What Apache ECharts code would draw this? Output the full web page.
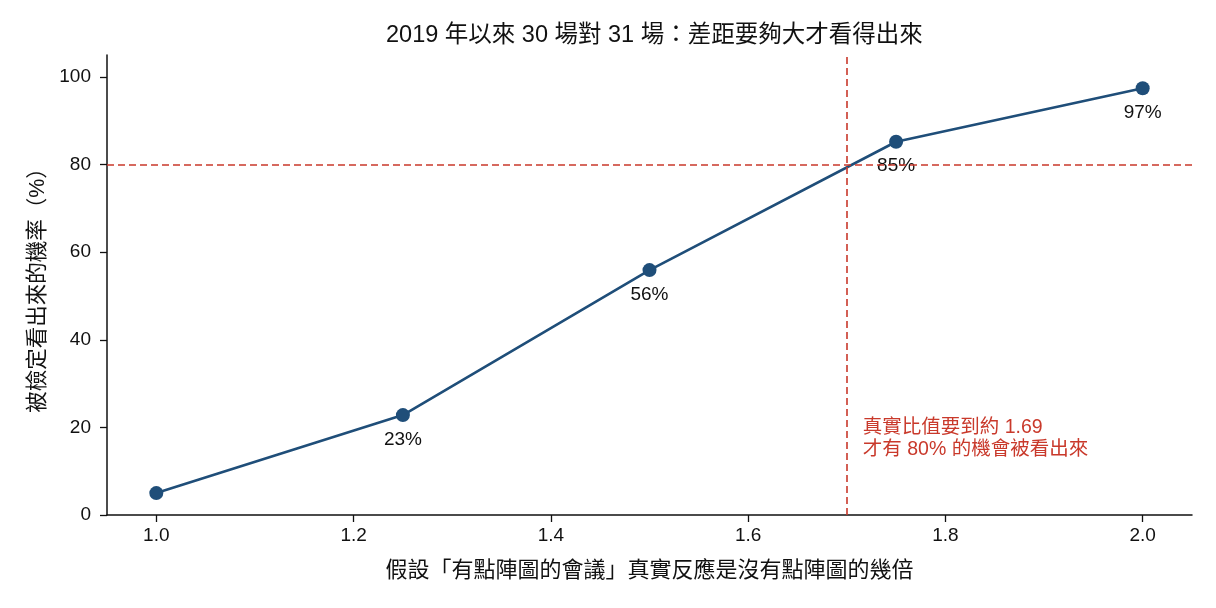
<!DOCTYPE html>
<html>
<head>
<meta charset="utf-8">
<script src="https://cdn.jsdelivr.net/npm/echarts@6/dist/echarts.min.js"></script>
<style>
  html, body { margin: 0; padding: 0; background: #fff; }
  #chart { width: 1216px; height: 608px; }
</style>
</head>
<body>
<div id="chart"></div>
<script>
// 資料
var ratios = [1.0, 1.25, 1.5, 1.75, 2.0];
var powers = [5.0, 22.8, 55.9, 85.2, 97.4];
var pointLabels = ['', '23%', '56%', '85%', '97%'];
var xTicks = [1.0, 1.2, 1.4, 1.6, 1.8, 2.0];
var yTicks = [0, 20, 40, 60, 80, 100];
var targetPower = 80;
var neededRatio = 1.695;
var noteLines = ['真實比值要到約 1.69', '才有 80% 的機會被看出來'];

var FONT = '"Liberation Sans", "Noto Sans CJK TC", sans-serif';
var BLUE = '#1f4e79';
var RED = '#c9392b';

var myChart = echarts.init(document.getElementById('chart'));
var option = {
  animation: false,
  title: {
    text: '2019 年以來 30 場對 31 場：差距要夠大才看得出來',
    left: 381,
    top: 19,
    textStyle: { fontFamily: FONT, fontSize: 23.5, fontWeight: 'normal', color: '#111' }
  },
  grid: { left: 107, right: 24, top: 55, bottom: 93 },
  xAxis: {
    type: 'value',
    min: 0.95,
    max: 2.05,
    name: '假設「有點陣圖的會議」真實反應是沒有點陣圖的幾倍',
    nameLocation: 'middle',
    nameGap: 45,
    nameTextStyle: { fontFamily: FONT, fontSize: 22, color: '#111' },
    axisLine: { lineStyle: { color: '#111', width: 1.5 } },
    axisTick: { show: true, length: 7, lineStyle: { color: '#111', width: 1.3 }, customValues: xTicks },
    splitLine: { show: false },
    axisLabel: {
      fontFamily: FONT, fontSize: 19, color: '#111', margin: 11,
      customValues: xTicks,
      formatter: function (v) { return v.toFixed(1); }
    }
  },
  yAxis: {
    type: 'value',
    min: 0,
    max: 105,
    name: '被檢定看出來的機率（%）',
    nameLocation: 'middle',
    nameGap: 58,
    nameTextStyle: { fontFamily: FONT, fontSize: 21.5, color: '#111' },
    axisLine: { show: true, lineStyle: { color: '#111', width: 1.5 } },
    axisTick: { show: true, length: 7, lineStyle: { color: '#111', width: 1.3 }, customValues: yTicks },
    splitLine: { show: false },
    axisLabel: {
      fontFamily: FONT, fontSize: 19, color: '#111', margin: 16,
      customValues: yTicks
    }
  },
  series: [
    {
      type: 'line',
      data: ratios.map(function (r, i) { return [r, powers[i]]; }),
      symbol: 'circle',
      symbolSize: 14,
      lineStyle: { color: BLUE, width: 2.6 },
      itemStyle: { color: BLUE },
      label: {
        show: true,
        position: 'bottom',
        distance: 8,
        fontFamily: FONT,
        fontSize: 19,
        color: '#111',
        formatter: function (p) { return pointLabels[p.dataIndex]; }
      },
      markLine: {
        silent: true,
        symbol: 'none',
        label: { show: false },
        lineStyle: { color: RED, type: [7, 4], width: 1.6 },
        data: [{ yAxis: targetPower }, { xAxis: neededRatio }]
      },
      z: 3
    }
  ]
};
myChart.setOption(option);

var notePos = myChart.convertToPixel({ gridIndex: 0 }, [neededRatio, 20]);
myChart.setOption({
  graphic: [{
    type: 'text',
    left: notePos[0] + 21,
    top: notePos[1] - 11,
    style: {
      text: noteLines.join('\n'),
      fill: RED,
      font: '19.5px ' + FONT,
      lineHeight: 22
    }
  }]
});
</script>
</body>
</html>
